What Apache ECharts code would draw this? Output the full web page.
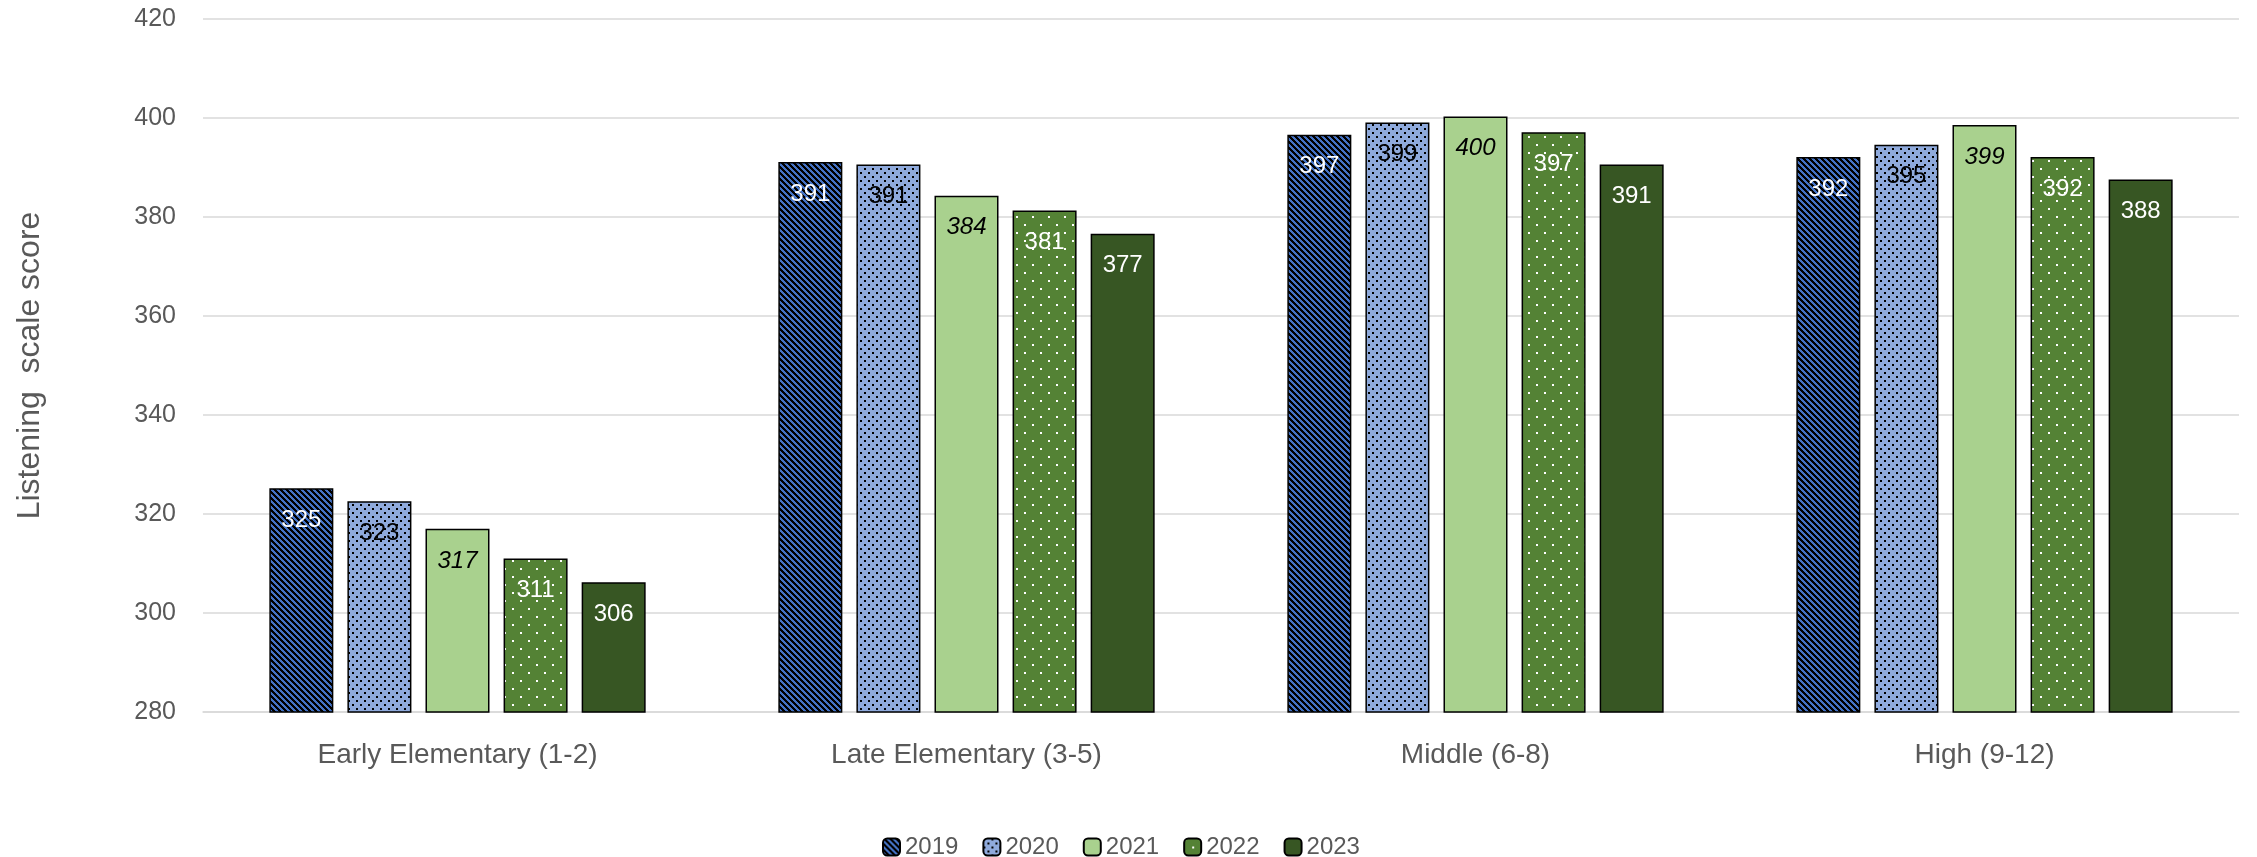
<!DOCTYPE html>
<html>
<head>
<meta charset="utf-8">
<script src="https://cdn.jsdelivr.net/npm/echarts@6/dist/echarts.min.js"></script>
<style>
  html, body { margin: 0; padding: 0; background: #fff; }
  #chart { width: 2257px; height: 857px; }
</style>
</head>
<body>
<div id="chart"></div>
<script>
// Grade bands and school years
const categories = ['Early Elementary (1-2)', 'Late Elementary (3-5)', 'Middle (6-8)', 'High (9-12)'];
const years = ['2019', '2020', '2021', '2022', '2023'];

// Mean listening scale score per grade band
const score2019 = [325.2, 391.1, 396.6, 392.1];
const score2020 = [322.6, 390.6, 399.1, 394.6];
const score2021 = [317.0, 384.3, 400.3, 398.6];
const score2022 = [311.0, 381.3, 397.1, 392.1];
const score2023 = [306.2, 376.6, 390.6, 387.6];

// Y axis ticks
const yTicks = [280, 300, 320, 340, 360, 380, 400, 420];

// Fill patterns
function stripePattern(bg, fg, period, width) {
  const c = document.createElement('canvas');
  c.width = c.height = period;
  const g = c.getContext('2d');
  g.fillStyle = bg; g.fillRect(0, 0, period, period);
  g.fillStyle = fg;
  for (let y = 0; y < period; y++) {
    for (let x = 0; x < period; x++) {
      if (((x - y) % period + period) % period < width) g.fillRect(x, y, 1, 1);
    }
  }
  return { image: c, repeat: 'repeat' };
}
function dotPattern(bg, fg, size, dot) {
  const c = document.createElement('canvas');
  c.width = c.height = size;
  const g = c.getContext('2d');
  g.fillStyle = bg; g.fillRect(0, 0, size, size);
  g.fillStyle = fg;
  g.fillRect(0, 0, dot, dot);
  g.fillRect(size / 2, size / 2, dot, dot);
  return { image: c, repeat: 'repeat' };
}

const seriesData = [score2019, score2020, score2021, score2022, score2023];
const fills = [
  stripePattern('#4472C4', '#000000', 6, 3),
  dotPattern('#8FAADC', '#000000', 8, 2),
  '#A9D18E',
  dotPattern('#548235', '#FFFFFF', 16, 2),
  '#375623'
];
const labelStyles = [
  { color: '#FFFFFF', fontStyle: 'normal' },
  { color: '#000000', fontStyle: 'normal' },
  { color: '#000000', fontStyle: 'italic' },
  { color: '#FFFFFF', fontStyle: 'normal' },
  { color: '#FFFFFF', fontStyle: 'normal' }
];

const FONT = '"Liberation Sans", Arial, sans-serif';

const chart = echarts.init(document.getElementById('chart'), null, { renderer: 'canvas' });

chart.setOption({
  backgroundColor: '#ffffff',
  animation: false,
  grid: { left: 203, right: 18, top: 19, bottom: 145, containLabel: false },
  legend: {
    data: years,
    left: 877,
    top: 830,
    itemWidth: 17,
    itemHeight: 17,
    itemGap: 24,
    textStyle: { color: '#595959', fontSize: 24, fontFamily: FONT }
  },
  xAxis: {
    type: 'category',
    data: categories,
    axisLine: { show: true, lineStyle: { color: '#D9D9D9', width: 1.5 } },
    axisTick: { show: false },
    axisLabel: { color: '#595959', fontSize: 28, fontFamily: FONT, margin: 29 }
  },
  yAxis: {
    type: 'value',
    min: yTicks[0],
    max: yTicks[yTicks.length - 1],
    interval: 20,
    name: 'Listening  scale score',
    nameLocation: 'middle',
    nameGap: 157,
    nameTextStyle: { color: '#595959', fontSize: 32, fontFamily: FONT },
    axisLine: { show: false },
    axisTick: { show: false },
    axisLabel: { color: '#595959', fontSize: 25, fontFamily: FONT, margin: 27 },
    splitLine: { show: true, lineStyle: { color: '#D9D9D9', width: 1.5 } }
  },
  series: years.map((yr, i) => ({
    name: yr,
    type: 'bar',
    data: seriesData[i],
    barWidth: 64,
    barGap: '22%',
    itemStyle: { color: fills[i], borderColor: '#000000', borderWidth: 1.5 },
    label: {
      show: true,
      position: 'insideTop',
      distance: 20,
      fontSize: 24,
      fontFamily: FONT,
      color: labelStyles[i].color,
      fontStyle: labelStyles[i].fontStyle,
      formatter: p => Math.round(p.value).toString()
    }
  }))
});
</script>
</body>
</html>
